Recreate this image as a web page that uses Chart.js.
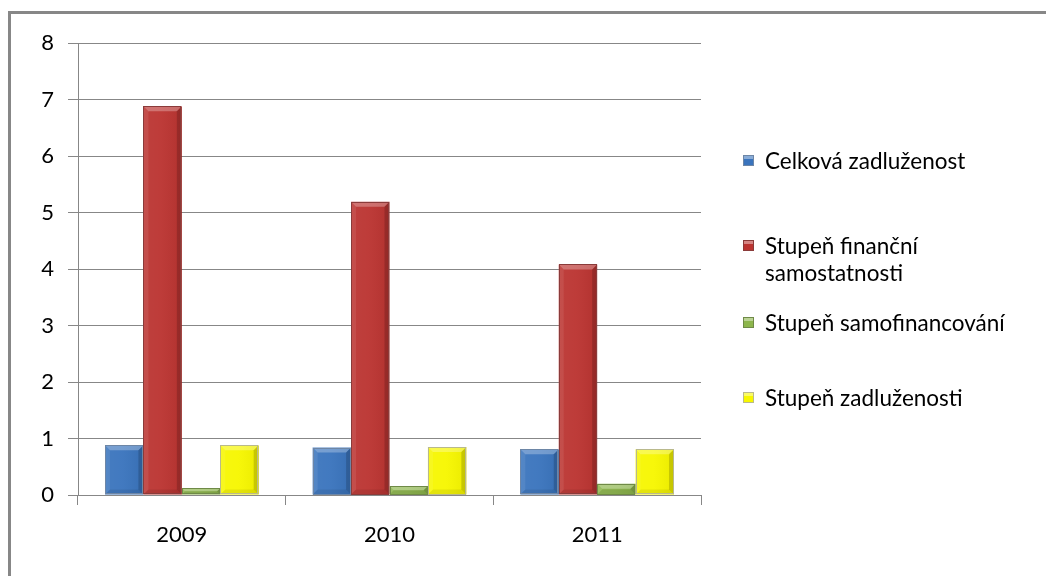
<!DOCTYPE html>
<html>
<head>
<meta charset="utf-8">
<script src="https://cdn.jsdelivr.net/npm/chart.js@4/dist/chart.umd.min.js"></script>
<style>
    html, body { margin: 0; padding: 0; background: #fff; }
    #wrap { position: relative; width: 1046px; height: 576px; overflow: hidden; }
    #frame { position: absolute; left: 8px; top: 11px; width: 1100px; height: 600px;
             border-left: 3px solid #878787; border-top: 3px solid #878787; }
    canvas { position: absolute; left: 0; top: 0; }
    .legend { position: absolute; left: 743px; font-family: 'Lato', sans-serif; font-size: 22.5px;
              line-height: 27px; color: #000; }
    .legend .box { position: absolute; left: 0; width: 11px; height: 11px; box-sizing: border-box; }
    .legend .txt { position: absolute; left: 22px; white-space: nowrap; }
</style>
</head>
<body>
<div id="wrap">
    <div id="frame"></div>
    <canvas id="ukazateleChart" width="1046" height="576"></canvas>
    <div id="legend"></div>
</div>
<script>
// Ukazatele zadluženosti 2009-2011
const roky = ['2009', '2010', '2011'];
const celkovaZadluzenost = [0.88, 0.84, 0.81];
const stupenFinSamostatnosti = [6.88, 5.19, 4.08];
const stupenSamofinancovani = [0.12, 0.16, 0.20];
const stupenZadluzenosti = [0.88, 0.85, 0.81];
const yTicks = [0, 1, 2, 3, 4, 5, 6, 7, 8];

const serie = [
    { label: 'Celková zadluženost', data: celkovaZadluzenost, color: '#3a74bd', edge: '#6d86a6' },
    { label: ['Stupeň finanční', 'samostatnosti'], data: stupenFinSamostatnosti, color: '#bb3431', edge: '#8a3b3a' },
    { label: 'Stupeň samofinancování', data: stupenSamofinancovani, color: '#8db64c', edge: '#6f8a47' },
    { label: 'Stupeň zadluženosti', data: stupenZadluzenosti, color: '#f7f700', edge: '#b9b98c' }
];

// plastic bevel + outline on each bar
const bevelPlugin = {
    id: 'bevel',
    afterDatasetsDraw(chart) {
        const ctx = chart.ctx;
        chart.data.datasets.forEach((ds, i) => {
            const edge = serie[i].edge;
            chart.getDatasetMeta(i).data.forEach(bar => {
                const p = bar.getProps(['x', 'y', 'base', 'width'], true);
                const l = p.x - p.width / 2, r = p.x + p.width / 2;
                const t = Math.min(p.y, p.base), b = Math.max(p.y, p.base);
                const s = Math.min(5, (b - t) / 2, p.width / 4);
                ctx.save();
                const g = ctx.createLinearGradient(l, 0, r, 0);
                g.addColorStop(0, 'rgba(255,255,255,0.06)');
                g.addColorStop(0.45, 'rgba(255,255,255,0.04)');
                g.addColorStop(1, 'rgba(0,0,0,0.05)');
                ctx.fillStyle = g;
                ctx.fillRect(l, t, r - l, b - t);
                // top
                ctx.fillStyle = 'rgba(255,255,255,0.28)';
                ctx.beginPath();
                ctx.moveTo(l, t); ctx.lineTo(r, t); ctx.lineTo(r - s, t + s); ctx.lineTo(l + s, t + s);
                ctx.closePath(); ctx.fill();
                // left
                ctx.fillStyle = 'rgba(255,255,255,0.08)';
                ctx.beginPath();
                ctx.moveTo(l, t); ctx.lineTo(l + s, t + s); ctx.lineTo(l + s, b - s); ctx.lineTo(l, b);
                ctx.closePath(); ctx.fill();
                // right
                ctx.fillStyle = 'rgba(0,0,0,0.16)';
                ctx.beginPath();
                ctx.moveTo(r, t); ctx.lineTo(r - s, t + s); ctx.lineTo(r - s, b - s); ctx.lineTo(r, b);
                ctx.closePath(); ctx.fill();
                // bottom
                ctx.fillStyle = 'rgba(0,0,0,0.08)';
                ctx.beginPath();
                ctx.moveTo(l, b); ctx.lineTo(l + s, b - s); ctx.lineTo(r - s, b - s); ctx.lineTo(r, b);
                ctx.closePath(); ctx.fill();
                // outline
                ctx.strokeStyle = edge;
                ctx.lineWidth = 1;
                ctx.strokeRect(Math.round(l) + 0.5, Math.round(t) + 0.5, Math.round(r - l) - 1, Math.round(b - t) - 1);
                ctx.restore();
            });
        });
    }
};

const fontFamily = "'Lato', sans-serif";

new Chart(document.getElementById('ukazateleChart').getContext('2d'), {
    type: 'bar',
    data: {
        labels: roky,
        datasets: serie.map(s => ({
            label: Array.isArray(s.label) ? s.label.join(' ') : s.label,
            data: s.data,
            backgroundColor: s.color,
            borderWidth: 0,
            inflateAmount: 0,
            categoryPercentage: 0.74,
            barPercentage: 1.0
        }))
    },
    options: {
        responsive: false,
        animation: false,
        layout: { padding: { left: 0, top: 43, right: 345, bottom: 0 } },
        plugins: { legend: { display: false }, tooltip: { enabled: false } },
        scales: {
            x: {
                offset: true,
                grid: { offset: true, drawOnChartArea: false, drawTicks: true, tickLength: 10, color: '#878787', lineWidth: 1 },
                border: { color: '#878787', width: 1 },
                ticks: { color: '#000', padding: 17, font: { family: fontFamily, size: 22 } },
                afterFit: s => { s.height = 81; }
            },
            y: {
                min: 0,
                max: 8,
                afterBuildTicks: s => { s.ticks = yTicks.map(v => ({ value: v })); },
                grid: { color: '#878787', lineWidth: 1, tickLength: 10 },
                border: { color: '#878787', width: 1 },
                ticks: { color: '#000', padding: 14, font: { family: fontFamily, size: 22 } },
                afterFit: s => { s.width = 78; }
            }
        }
    },
    plugins: [bevelPlugin]
});

// legend at the right side
const legendTops = [160, 245, 322, 397];
const legend = document.getElementById('legend');
serie.forEach((s, i) => {
    const lines = Array.isArray(s.label) ? s.label : [s.label];
    const item = document.createElement('div');
    item.className = 'legend';
    item.style.top = (legendTops[i] - 13.5) + 'px';
    const box = document.createElement('div');
    box.className = 'box';
    box.style.top = '8px';
    box.style.background = `linear-gradient(to bottom, rgba(255,255,255,0.4) 0, rgba(255,255,255,0.4) 35%, rgba(0,0,0,0) 35%), ${s.color}`;
    box.style.border = '1px solid ' + s.edge;
    const txt = document.createElement('div');
    txt.className = 'txt';
    txt.innerHTML = lines.join('<br>');
    item.appendChild(box);
    item.appendChild(txt);
    legend.appendChild(item);
});
</script>
</body>
</html>
